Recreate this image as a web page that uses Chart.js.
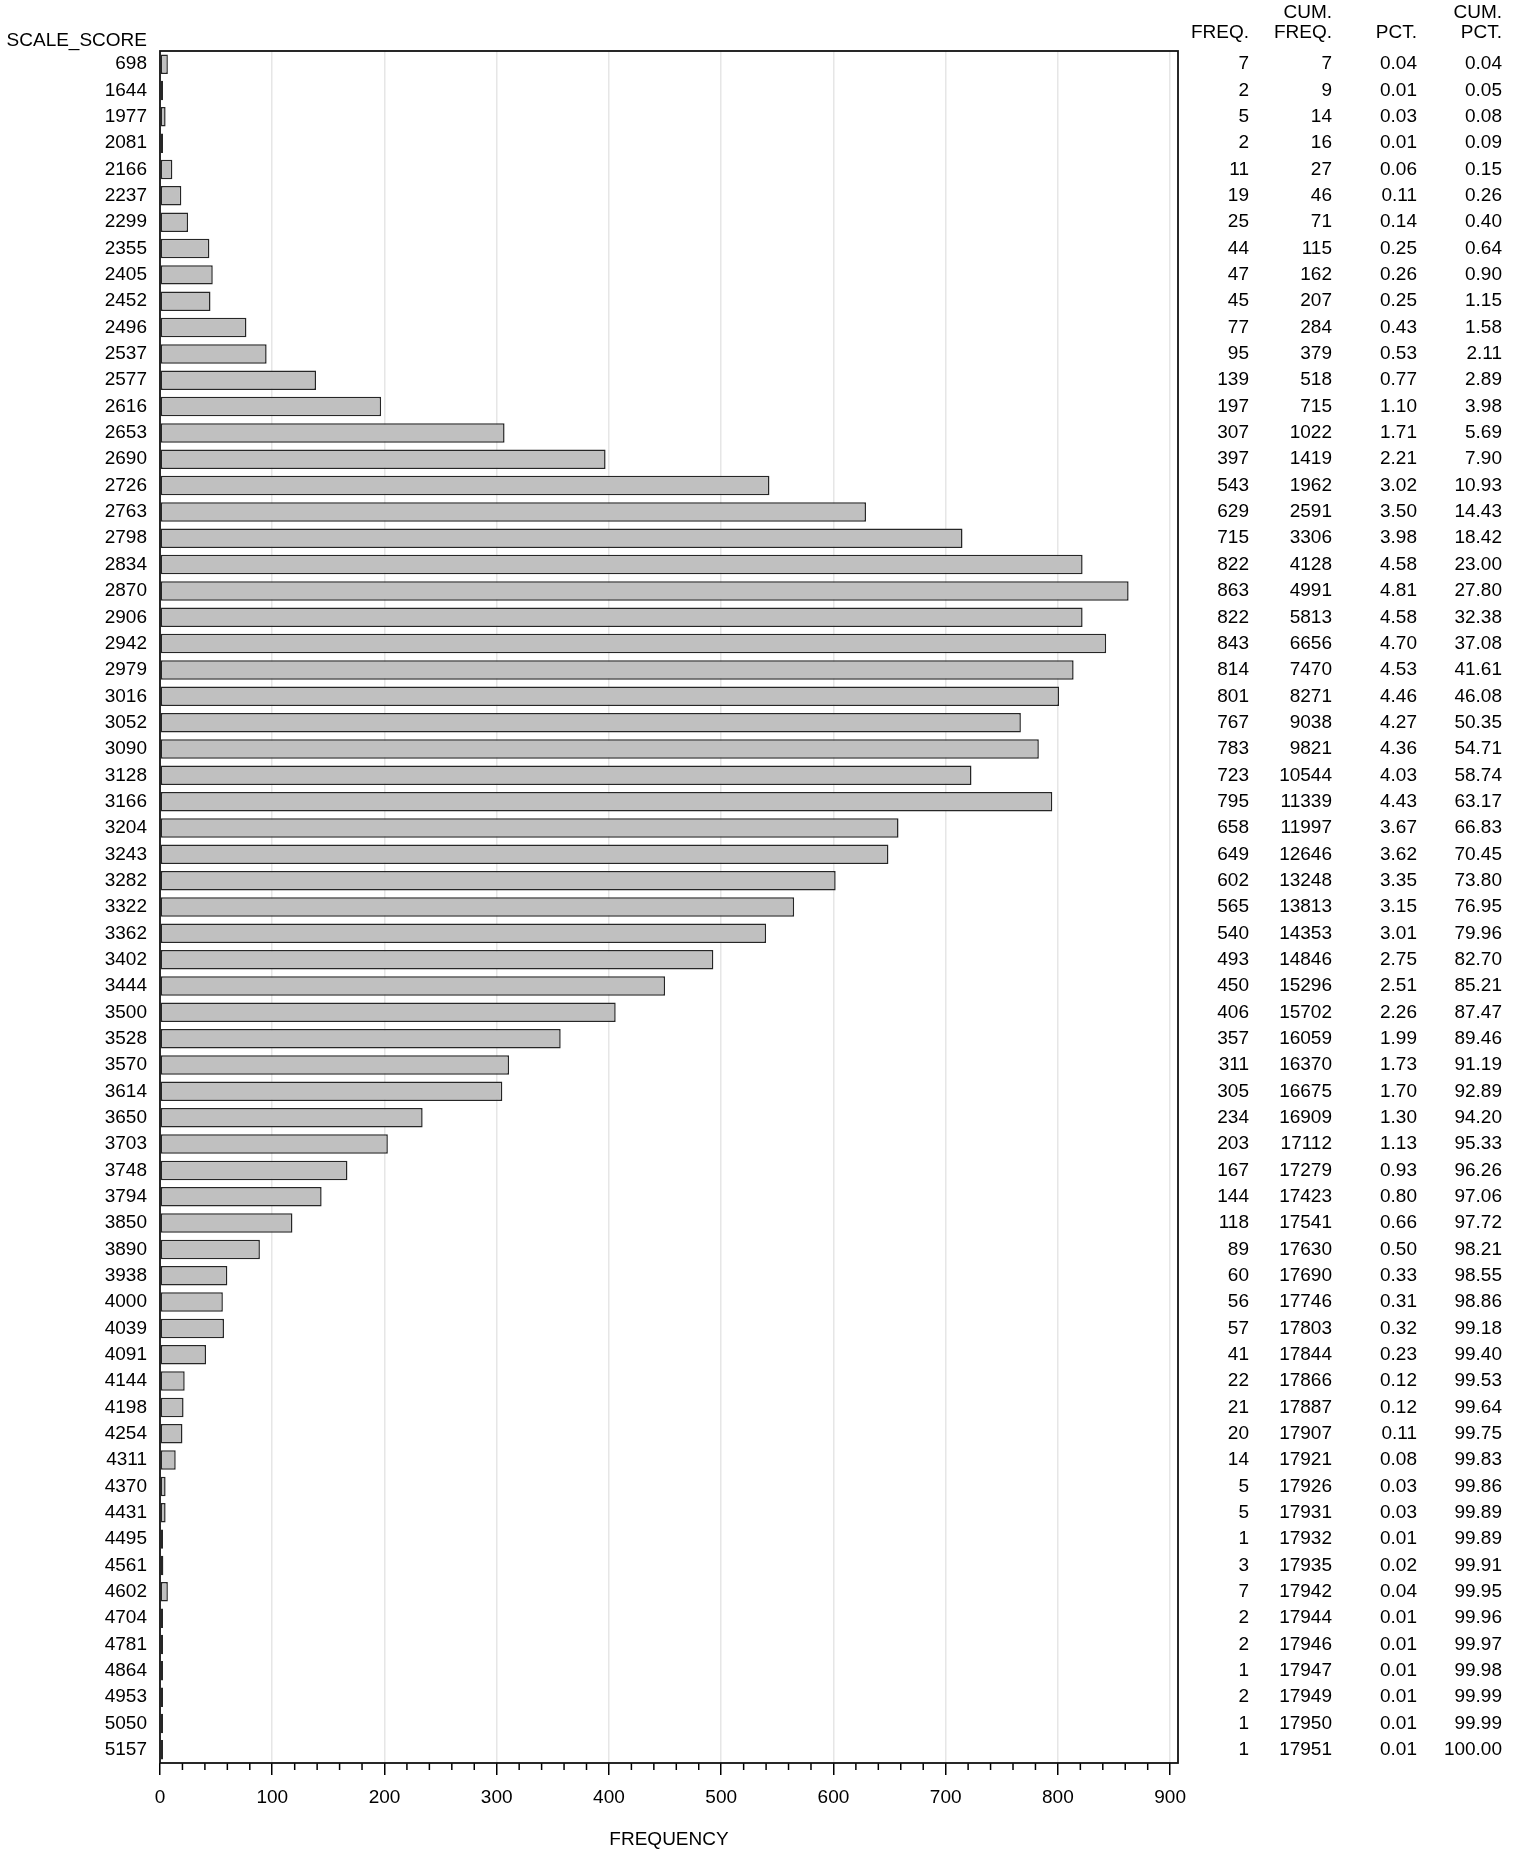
<!DOCTYPE html>
<html>
<head>
<meta charset="utf-8">
<script src="https://cdn.jsdelivr.net/npm/chart.js@4.4.1/dist/chart.umd.min.js"></script>
<style>
  html, body { margin: 0; padding: 0; background: #fff; }
  #wrap { width: 1521px; height: 1849px; position: relative; }
</style>
</head>
<body>
<div id="wrap"><canvas id="grafico"></canvas></div>
<script>
const scores = ['698', '1644', '1977', '2081', '2166', '2237', '2299', '2355', '2405', '2452',
  '2496', '2537', '2577', '2616', '2653', '2690', '2726', '2763', '2798', '2834',
  '2870', '2906', '2942', '2979', '3016', '3052', '3090', '3128', '3166', '3204',
  '3243', '3282', '3322', '3362', '3402', '3444', '3500', '3528', '3570', '3614',
  '3650', '3703', '3748', '3794', '3850', '3890', '3938', '4000', '4039', '4091',
  '4144', '4198', '4254', '4311', '4370', '4431', '4495', '4561', '4602', '4704',
  '4781', '4864', '4953', '5050', '5157']
const freq = [7, 2, 5, 2, 11, 19, 25, 44, 47, 45,
  77, 95, 139, 197, 307, 397, 543, 629, 715, 822,
  863, 822, 843, 814, 801, 767, 783, 723, 795, 658,
  649, 602, 565, 540, 493, 450, 406, 357, 311, 305,
  234, 203, 167, 144, 118, 89, 60, 56, 57, 41,
  22, 21, 20, 14, 5, 5, 1, 3, 7, 2,
  2, 1, 2, 1, 1]
const cumFreq = [7, 9, 14, 16, 27, 46, 71, 115, 162, 207,
  284, 379, 518, 715, 1022, 1419, 1962, 2591, 3306, 4128,
  4991, 5813, 6656, 7470, 8271, 9038, 9821, 10544, 11339, 11997,
  12646, 13248, 13813, 14353, 14846, 15296, 15702, 16059, 16370, 16675,
  16909, 17112, 17279, 17423, 17541, 17630, 17690, 17746, 17803, 17844,
  17866, 17887, 17907, 17921, 17926, 17931, 17932, 17935, 17942, 17944,
  17946, 17947, 17949, 17950, 17951]
const pct = [0.04, 0.01, 0.03, 0.01, 0.06, 0.11, 0.14, 0.25, 0.26, 0.25,
  0.43, 0.53, 0.77, 1.10, 1.71, 2.21, 3.02, 3.50, 3.98, 4.58,
  4.81, 4.58, 4.70, 4.53, 4.46, 4.27, 4.36, 4.03, 4.43, 3.67,
  3.62, 3.35, 3.15, 3.01, 2.75, 2.51, 2.26, 1.99, 1.73, 1.70,
  1.30, 1.13, 0.93, 0.80, 0.66, 0.50, 0.33, 0.31, 0.32, 0.23,
  0.12, 0.12, 0.11, 0.08, 0.03, 0.03, 0.01, 0.02, 0.04, 0.01,
  0.01, 0.01, 0.01, 0.01, 0.01]
const cumPct = [0.04, 0.05, 0.08, 0.09, 0.15, 0.26, 0.40, 0.64, 0.90, 1.15,
  1.58, 2.11, 2.89, 3.98, 5.69, 7.90, 10.93, 14.43, 18.42, 23.00,
  27.80, 32.38, 37.08, 41.61, 46.08, 50.35, 54.71, 58.74, 63.17, 66.83,
  70.45, 73.80, 76.95, 79.96, 82.70, 85.21, 87.47, 89.46, 91.19, 92.89,
  94.20, 95.33, 96.26, 97.06, 97.72, 98.21, 98.55, 98.86, 99.18, 99.40,
  99.53, 99.64, 99.75, 99.83, 99.86, 99.89, 99.89, 99.91, 99.95, 99.96,
  99.97, 99.98, 99.99, 99.99, 100.00]

const fuente = '"Liberation Sans", Arial, sans-serif'
Chart.defaults.font.family = fuente
Chart.defaults.font.size = 19
Chart.defaults.color = '#000'

// tabla de la derecha, marco y ticks menores
const extras = {
  id: 'extras',
  afterDraw(chart) {
    const ctx = chart.ctx
    const area = chart.chartArea
    const y = chart.scales.y
    const x = chart.scales.x
    ctx.save()

    // ticks menores cada 20
    ctx.strokeStyle = '#000'
    ctx.lineWidth = 1.5
    for (let v = 20; v < 900; v += 20) {
      if (v % 100 === 0) continue
      const px = x.getPixelForValue(v)
      ctx.beginPath()
      ctx.moveTo(px, area.bottom)
      ctx.lineTo(px, area.bottom + 7)
      ctx.stroke()
    }

    // marco
    ctx.strokeStyle = '#111'
    ctx.lineWidth = 1.8
    ctx.strokeRect(area.left, area.top, area.right - area.left, area.bottom - area.top)

    ctx.fillStyle = '#000'
    ctx.font = '19px ' + fuente
    ctx.textBaseline = 'middle'

    // titulo del eje y
    ctx.textAlign = 'right'
    ctx.fillText('SCALE_SCORE', area.left - 13, 41)

    // columnas
    const cols = [1249, 1332, 1417, 1502]
    ctx.fillText('FREQ.', cols[0], 33)
    ctx.fillText('CUM.', cols[1], 13)
    ctx.fillText('FREQ.', cols[1], 33)
    ctx.fillText('PCT.', cols[2], 33)
    ctx.fillText('CUM.', cols[3], 13)
    ctx.fillText('PCT.', cols[3], 33)
    for (let i = 0; i < scores.length; i++) {
      const py = y.getPixelForValue(i)
      ctx.fillText(String(freq[i]), cols[0], py)
      ctx.fillText(String(cumFreq[i]), cols[1], py)
      ctx.fillText(pct[i].toFixed(2), cols[2], py)
      ctx.fillText(cumPct[i].toFixed(2), cols[3], py)
    }
    ctx.restore()
  }
}

const ctx = document.getElementById('grafico').getContext('2d')
const myChart = new Chart(ctx, {
  type: 'bar',
  data: {
    labels: scores,
    datasets: [{
      label: 'FREQUENCY',
      data: freq,
      backgroundColor: '#c0c0c0',
      borderColor: '#262626',
      borderWidth: 1.5,
      borderSkipped: false,
      minBarLength: 3,
      barPercentage: 0.74,
      categoryPercentage: 1.0
    }]
  },
  options: {
    indexAxis: 'y',
    responsive: true,
    maintainAspectRatio: false,
    animation: false,
    layout: { padding: { left: 0, top: 51, right: 343, bottom: 0 } },
    plugins: { legend: { display: false }, tooltip: { enabled: false } },
    scales: {
      x: {
        min: 0,
        max: 907,
        z: 1,
        border: { display: false },
        afterBuildTicks: (s) => {
          const t = []
          for (let v = 0; v <= 900; v += 20) t.push({ value: v })
          s.ticks = t
        },
        grid: {
          color: (c) => (c.tick && c.tick.value % 100 === 0 && c.tick.value > 0) ? '#e6e6e6' : 'rgba(0,0,0,0)',
          lineWidth: 1.5,
          tickColor: (c) => (c.tick && c.tick.value % 100 === 0) ? '#000' : 'rgba(0,0,0,0)',
          tickLength: 12,
          tickWidth: 1.5
        },
        ticks: {
          autoSkip: false,
          maxRotation: 0,
          padding: 11,
          callback: (v) => v % 100 === 0 ? v : ''
        },
        title: {
          display: true,
          text: 'FREQUENCY',
          font: { size: 19, lineHeight: 1 },
          padding: { top: 0, bottom: 0 }
        },
        afterFit: (s) => { s.height = 86 }
      },
      y: {
        grid: { display: false, drawTicks: false },
        border: { display: false },
        ticks: { autoSkip: false, padding: 13 },
        afterFit: (s) => { s.width = 160 }
      }
    }
  },
  plugins: [extras]
})
</script>
</body>
</html>
